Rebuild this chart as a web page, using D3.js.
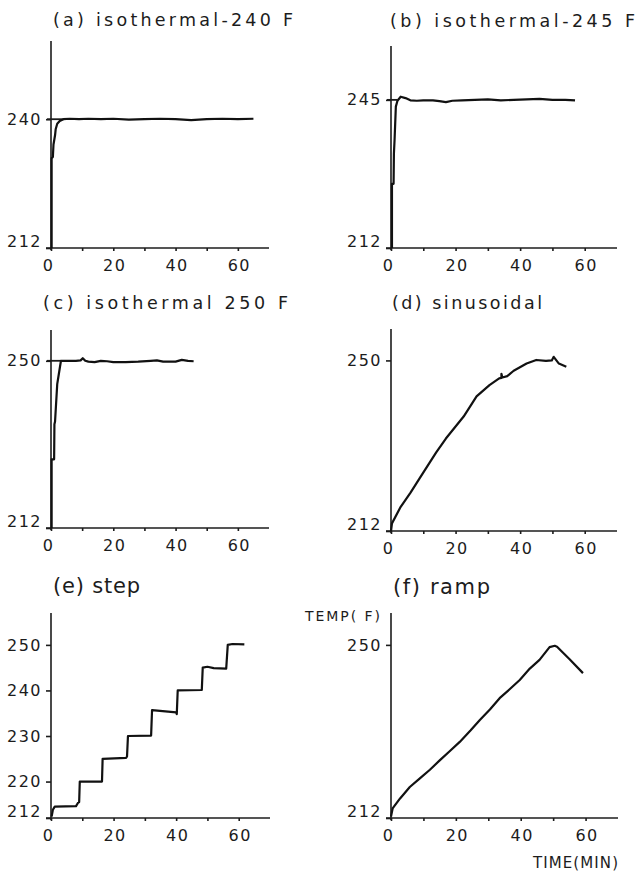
<!DOCTYPE html>
<html>
<head>
<meta charset="utf-8">
<script src="https://cdn.jsdelivr.net/npm/d3@7"></script>
<style>
  body { margin: 0; background: #fff; }
  text { font-family: "DejaVu Sans", sans-serif; fill: #1c1c1c; }
</style>
</head>
<body>
<svg id="chart" width="641" height="873"></svg>
<script>
// time in minutes, temperature in F
const titles = ['(a) isothermal-240 F', '(b) isothermal-245 F', '(c) isothermal 250 F',
                '(d) sinusoidal', '(e) step', '(f) ramp']

const timeA = [0.2, 0.2, 0.6, 0.8, 1.3, 1.5, 2.0, 2.8, 4.0, 6, 9, 12, 16, 20, 25, 30, 35, 40, 45, 50, 55, 60, 65]
const tempA = [212, 231.5, 231.8, 234.5, 236.5, 237.8, 239.0, 239.6, 240.0, 240.1, 240.0, 240.1, 240.0, 240.1,
               239.9, 240.0, 240.1, 240.0, 239.8, 240.0, 240.1, 240.0, 240.1]

const timeB = [0.3, 0.3, 0.8, 0.9, 1.1, 1.5, 2.0, 3.0, 4.5, 6, 8, 10, 13, 15, 17, 19, 22, 26, 30, 34, 38, 42, 46, 50, 54, 57]
const tempB = [212, 226.3, 226.3, 233, 236, 243.5, 244.8, 245.7, 245.4, 244.9, 244.8, 244.9, 244.9, 244.7, 244.5,
               244.8, 244.9, 245, 245.1, 244.9, 245.0, 245.1, 245.2, 245.0, 245.0, 244.9]

const timeC = [0.2, 0.2, 1.0, 1.1, 1.3, 2.0, 2.9, 3.2, 6, 8, 9.5, 10.2, 11, 12, 14, 16, 18, 20, 24, 28, 32, 34, 36, 40, 42, 44, 45.8]
const tempC = [212, 227.6, 227.6, 235.6, 236.2, 244.7, 248.7, 250, 250, 250, 250.1, 250.6, 250, 249.8, 249.7,
               250, 249.9, 249.7, 249.7, 249.8, 250, 250.1, 249.8, 249.8, 250.2, 250, 249.9]

const timeD = [0, 0.3, 3, 6, 9, 14, 17, 22.5, 26.5, 30.5, 33.5, 34.2, 34.2, 34.5, 36, 38, 42, 45, 48, 49.8, 50.4, 52, 54.3]
const tempD = [212, 213.7, 217.4, 220.5, 223.9, 229.5, 232.6, 237.5, 242, 244.5, 246.0, 246.1, 247.0, 246.2, 246.5,
               247.7, 249.3, 250.1, 249.9, 250.0, 250.8, 249.3, 248.6]

const timeE = [0.2, 0.6, 1.2, 8.0, 8.6, 9.0, 9.2, 16.3, 16.5, 24.0, 24.3, 24.6, 32.0, 32.3, 40.0, 40.2, 40.5,
               48.2, 48.5, 50, 52, 56.0, 56.5, 58, 61.8]
const tempE = [212.3, 213.8, 214.5, 214.6, 215.3, 215.5, 220, 220, 225, 225.2, 225.5, 230, 230.1, 235.7, 235.2, 234.8, 240,
               240.1, 245, 245.2, 244.9, 244.8, 250, 250.2, 250.1]

const timeF = [0, 0.5, 2.8, 5.8, 8.9, 12, 15.1, 18, 21.2, 24.5, 27.4, 30.5, 33.5, 36.5, 39.7, 42.8, 45.8, 48.9, 50.5,
               51.2, 55, 59.2]
const tempF = [212.3, 214.1, 216.3, 218.8, 220.7, 222.6, 224.7, 226.6, 228.7, 231.2, 233.5, 235.8, 238.3, 240.2,
               242.3, 244.8, 246.7, 249.5, 249.8, 249.6, 246.9, 243.8]

// setpoint lines drawn from the axis to where the trace settles
const setpoints = [240, 245, 250, null, null, null]
const settleTimes = [4.0, 2.0, 3.2, null, null, null]

const yTicks = [[212, 240], [212, 245], [212, 250], [212, 250], [212, 220, 230, 240, 250], [212, 250]]
const xTicks = [0, 10, 20, 30, 40, 50, 60]
const times = [timeA, timeB, timeC, timeD, timeE, timeF]
const temps = [tempA, tempB, tempC, tempD, tempE, tempF]

// panel frames in page pixels
const frames = [
  {l: 51,  r: 269, t: 41,  b: 248, tx: 53,  ty: 26,  tw: 240, fs: 17.5},
  {l: 391, r: 617, t: 46,  b: 248, tx: 390, ty: 26.5, tw: 245, fs: 17.5},
  {l: 51,  r: 269, t: 330, b: 528, tx: 43,  ty: 309, tw: 245, fs: 17.5},
  {l: 391, r: 617, t: 329, b: 531, tx: 392, ty: 309, tw: 150, fs: 17.5},
  {l: 51,  r: 270, t: 613, b: 818, tx: 53,  ty: 593, tw: 87,  fs: 21},
  {l: 391, r: 618, t: 613, b: 818, tx: 393, ty: 594, tw: 97,  fs: 21}
]

const svg = d3.select('#chart')

frames.forEach((f, i) => {
  const x = d3.scaleLinear().domain([0, 70]).range([f.l, f.r])
  const y = d3.scaleLinear().domain([212, 257]).range([f.b, f.t])
  const g = svg.append('g').attr('class', 'panel')

  g.append('text')
    .attr('x', f.tx)
    .attr('y', f.ty)
    .attr('textLength', f.tw)
    .attr('lengthAdjust', 'spacing')
    .style('font-size', f.fs + 'px')
    .text(titles[i])

  // y axis
  const ya = g.append('g')
    .attr('transform', `translate(${f.l}, 0)`)
    .call(d3.axisLeft(y)
      .tickValues(yTicks[i])
      .tickSize(5)
      .tickSizeOuter(0)
      .tickPadding(4)
      .tickFormat(d3.format('d')))
  ya.select('.domain').attr('d', `M0,${f.t}V${f.b + 2}`)
  ya.selectAll('path, line').attr('stroke', '#1c1c1c').attr('stroke-width', 1.6)
  ya.selectAll('text')
    .style('font-size', '16px')
    .style('letter-spacing', '1.5px')
    .style('font-family', '"DejaVu Sans", sans-serif')
    .attr('fill', '#1c1c1c')
    .filter(d => d === 212)
    .attr('y', -7)

  // x axis
  const xa = g.append('g')
    .attr('transform', `translate(0, ${f.b})`)
    .call(d3.axisBottom(x)
      .tickValues(xTicks)
      .tickSize(3)
      .tickSizeOuter(0)
      .tickFormat(d => d % 20 === 0 ? d : ''))
  xa.select('.domain').attr('d', `M${x(0) - 5},0H${x(70)}`)
  xa.selectAll('path, line').attr('stroke', '#1c1c1c').attr('stroke-width', 1.6)
  xa.selectAll('text')
    .attr('y', 12)
    .attr('x', d => d === 0 ? -3 : 1)
    .style('font-size', '16px')
    .style('letter-spacing', '1.5px')
    .style('font-family', '"DejaVu Sans", sans-serif')
    .attr('fill', '#1c1c1c')

  if (setpoints[i] !== null) {
    g.append('line')
      .attr('x1', x(0) - 4)
      .attr('x2', x(settleTimes[i]))
      .attr('y1', y(setpoints[i]))
      .attr('y2', y(setpoints[i]))
      .attr('stroke', '#1c1c1c')
      .attr('stroke-width', 1.8)
  }

  const pts = times[i].map((t, k) => [t, temps[i][k]])
  g.append('path')
    .datum(pts)
    .attr('fill', 'none')
    .attr('stroke', '#111')
    .attr('stroke-width', 2.2)
    .attr('stroke-linejoin', 'round')
    .attr('d', d3.line().x(d => x(d[0])).y(d => y(d[1])))
})

svg.append('text')
  .attr('x', 305)
  .attr('y', 621)
  .attr('textLength', 75)
  .attr('lengthAdjust', 'spacing')
  .style('font-size', '14px')
  .text('TEMP( F)')

svg.append('text')
  .attr('x', 533)
  .attr('y', 868)
  .attr('textLength', 85)
  .attr('lengthAdjust', 'spacing')
  .style('font-size', '15px')
  .text('TIME(MIN)')
</script>
</body>
</html>
